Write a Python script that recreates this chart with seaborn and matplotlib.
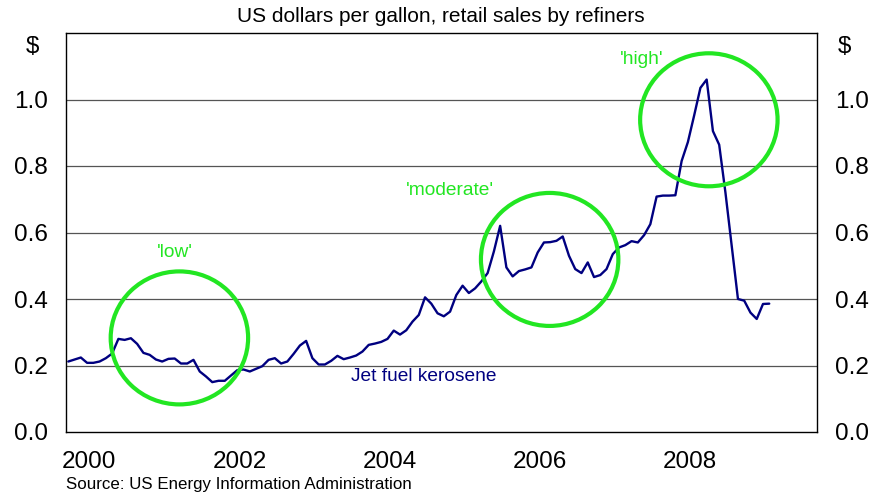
import numpy as np
import pandas as pd
import matplotlib
matplotlib.use("Agg")
import matplotlib.pyplot as plt
from matplotlib.patches import Ellipse
import seaborn as sns

# monthly jet fuel kerosene price, Jan 2000 - May 2009 (US$ per gallon)
start_year = 2000
prices = [
    0.212, 0.218, 0.224, 0.208, 0.208, 0.212, 0.222, 0.236, 0.280, 0.277, 0.282, 0.265,  # 2000
    0.238, 0.232, 0.218, 0.212, 0.220, 0.221, 0.206, 0.206, 0.217, 0.182, 0.167, 0.150,  # 2001
    0.154, 0.154, 0.170, 0.186, 0.188, 0.182, 0.190, 0.198, 0.217, 0.222, 0.206, 0.212,  # 2002
    0.235, 0.260, 0.274, 0.222, 0.203, 0.203, 0.214, 0.229, 0.219, 0.224, 0.230, 0.242,  # 2003
    0.262, 0.266, 0.271, 0.280, 0.305, 0.293, 0.306, 0.332, 0.352, 0.405, 0.386, 0.357,  # 2004
    0.348, 0.362, 0.412, 0.440, 0.418, 0.432, 0.453, 0.478, 0.543, 0.620, 0.495, 0.468,  # 2005
    0.484, 0.489, 0.495, 0.540, 0.570, 0.571, 0.575, 0.588, 0.530, 0.490, 0.478, 0.510,  # 2006
    0.466, 0.472, 0.490, 0.535, 0.555, 0.562, 0.574, 0.570, 0.592, 0.625, 0.708, 0.711,  # 2007
    0.711, 0.712, 0.815, 0.872, 0.952, 1.035, 1.060, 0.905, 0.864, 0.720, 0.560, 0.400,  # 2008
    0.395, 0.359, 0.340, 0.385, 0.386,                                                   # 2009
]
year_labels = ["2000", "2002", "2004", "2006", "2008"]
y_ticks = [0.0, 0.2, 0.4, 0.6, 0.8, 1.0]

# circled regimes: label, centre (year, $), label position
regimes = ["'low'", "'moderate'", "'high'"]
regime_centres = [(2001.51, 0.283), (2006.44, 0.519), (2008.56, 0.939)]
regime_labels_at = [(2001.45, 0.539), (2005.11, 0.726), (2007.67, 1.12)]

df = pd.DataFrame({
    "date": start_year + (np.arange(len(prices)) + 0.37) / 12,
    "price": prices,
})

sns.set_style("white")
plt.rcParams["font.family"] = ["Liberation Sans", "DejaVu Sans"]
plt.rcParams["text.color"] = "black"
plt.rcParams["xtick.color"] = "black"
plt.rcParams["ytick.color"] = "black"

fig = plt.figure(figsize=(8.71, 4.97), dpi=100)
ax = fig.add_axes([66 / 871, 65 / 497, 751 / 871, 399 / 497])

sns.lineplot(data=df, x="date", y="price", color="#000080", linewidth=1.7, ax=ax)

ax.set_xlim(2000, 2010)
ax.set_ylim(0, 1.2)
ax.set_xlabel("")
ax.set_ylabel("")

# gridlines
for v in y_ticks[1:]:
    ax.axhline(v, color="#555555", linewidth=0.9, zorder=0)

for s in ax.spines.values():
    s.set_color("black")
    s.set_linewidth(1.0)
    s.set_visible(True)

# x ticks: year marks inward, labels offset into each year
ax.set_xticks(np.arange(2001, 2010))
ax.set_xticklabels([])
ax.tick_params(axis="x", which="major", direction="in", length=5, width=0.8, color="black")
ax.set_xticks([int(y) + 0.31 for y in year_labels], minor=True)
ax.set_xticklabels(year_labels, minor=True)
ax.tick_params(axis="x", which="minor", length=0, pad=14, labelsize=17.5, labelcolor="black")

ax.set_yticks(y_ticks)
ax.set_yticklabels([f"{v:.1f}" for v in y_ticks])
ax.tick_params(axis="y", length=0, pad=13, labelsize=17.5, left=True, right=True,
               labelleft=True, labelright=True, labelcolor="black")

ax.text(-0.045, 0.965, "$", transform=ax.transAxes, ha="center", va="center", fontsize=17.5)
ax.text(1.037, 0.965, "$", transform=ax.transAxes, ha="center", va="center", fontsize=17.5)

green = "#22e622"
for (cx, cy), (lx, ly), name in zip(regime_centres, regime_labels_at, regimes):
    ax.add_patch(Ellipse((cx, cy), width=1.83, height=0.40, fill=False,
                         edgecolor=green, linewidth=3, zorder=3))
    ax.text(lx, ly, name, color=green, fontsize=13.8, ha="center", va="center")

ax.text(2004.76, 0.166, "Jet fuel kerosene", color="#000080", fontsize=13.8,
        ha="center", va="center")

fig.text(441 / 871, 1 - 16 / 497, "US dollars per gallon, retail sales by refiners",
         ha="center", va="center", fontsize=15)
fig.text(66 / 871, 1 - 485 / 497, "Source: US Energy Information Administration",
         ha="left", va="center", fontsize=12.2)

fig.savefig("out.png", dpi=100)
